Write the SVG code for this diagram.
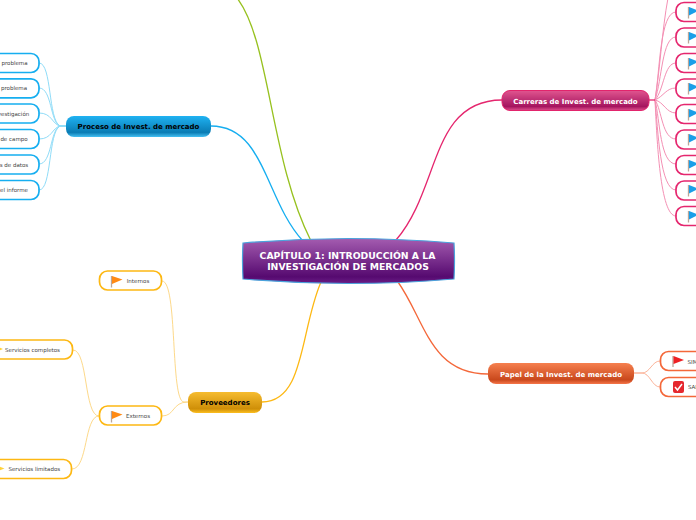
<svg xmlns="http://www.w3.org/2000/svg" width="696" height="520" viewBox="0 0 696 520">
<style>
text{font-family:"DejaVu Sans",Verdana,sans-serif;text-anchor:middle}
.main{font-size:7px;font-weight:700}
.rt{font-size:9.300px;font-weight:700;fill:#fff}
.small{font-size:5.500px;fill:#444}
.c{fill:none;stroke-width:1.300}
.t{fill:none;stroke-width:1}
.leaf{fill:#fff;stroke-width:1.700}
.cy{stroke:#16aef0}.pk{stroke:#e5266e}.or{stroke:#f4683a}.ye{stroke:#fdb813}.gr{stroke:#97c11f}
.cyl{stroke:#8fdcf8}.pkl{stroke:#f490b4}.orl{stroke:#fbb49a}.yel{stroke:#fdd98a}
.pole{stroke:#bba698;stroke-width:1.300}
</style>
<defs>
<linearGradient id="gRoot" x1="0" y1="0" x2="0" y2="1"><stop offset="0" stop-color="#a45cb0"/><stop offset=".85" stop-color="#560a70"/><stop offset="1" stop-color="#6a1e86"/></linearGradient>
<linearGradient id="gCy" x1="0" y1="0" x2="0" y2="1"><stop offset="0" stop-color="#1fb2f2"/><stop offset=".78" stop-color="#0a7cb4"/><stop offset="1" stop-color="#45c0f2"/></linearGradient>
<linearGradient id="gPk" x1="0" y1="0" x2="0" y2="1"><stop offset="0" stop-color="#e0558f"/><stop offset=".8" stop-color="#a5155f"/><stop offset="1" stop-color="#e0508c"/></linearGradient>
<linearGradient id="gOr" x1="0" y1="0" x2="0" y2="1"><stop offset="0" stop-color="#f6804f"/><stop offset=".8" stop-color="#c9481c"/><stop offset="1" stop-color="#f6764a"/></linearGradient>
<linearGradient id="gYe" x1="0" y1="0" x2="0" y2="1"><stop offset="0" stop-color="#f6bc30"/><stop offset=".8" stop-color="#cf8f08"/><stop offset="1" stop-color="#fdbf20"/></linearGradient>
<g id="flagB"><line class="pole" x1="0" y1="0" x2="0" y2="11.500"/><path d="M.5 0L10 3.800 .5 8.500Z" fill="#1b9fe8"/></g>
<g id="flagO"><line class="pole" x1="0" y1="0" x2="0" y2="11.500"/><path d="M.5 0L11 3.500 .5 8Z" fill="#ff8a14"/></g>
</defs>
<g id="connectors">
<path class="c gr" d="M237 -2C270 40 270 160 311 241"/>
<path class="c cy" d="M211 126C265 126 265 200 303 241"/>
<path class="c pk" d="M396 240C440 190 430 100 502 100"/>
<path class="c or" d="M398 282C425 320 430 374 488 374"/>
<path class="c ye" d="M321 282C300 330 305 402 262 402"/>
<g class="t cyl">
<path d="M66 126H60C48 120 52 63 39 63"/><path d="M66 126H60C50 122 52 88 39 88"/><path d="M66 126H60C52 124 52 113 39 113"/><path d="M66 126H60C52 128 52 139 39 139"/><path d="M66 126H60C50 130 52 164 39 164"/><path d="M66 126H60C48 132 52 190 39 190"/>
</g>
<g class="t pkl">
<path d="M655 100C660 70 662 30 668 -2"/><path d="M655 100C660 70 660 12 676 12"/><path d="M655 100C662 80 662 37 676 37"/><path d="M655 100C664 90 664 63 676 63"/><path d="M655 100C664 96 666 88 676 88"/><path d="M655 100C664 102 666 113 676 113"/><path d="M655 100C662 110 662 139 676 139"/><path d="M655 100C660 120 660 164 676 164"/><path d="M655 100C658 130 660 190 676 190"/><path d="M655 100C657 140 660 216 676 216"/>
</g>
<path class="c pk" d="M649 100H655"/>
<g class="t orl"><path d="M634 373H642C650 373 652 361 660 361"/><path d="M634 373H642C650 373 652 387 660 387"/></g>
<g class="t yel">
<path d="M188 402H184C170 402 178 281 162 281"/><path d="M188 402C172 402 175 416 162 416"/>
<path d="M99 416C84 416 88 350 73 350"/><path d="M99 416C84 416 88 469 72 469"/>
</g>
</g>
<g id="root">
<path d="M243 243Q348 234 454 243Q455 261 454 279Q348 288 243 279Q242 261 243 243Z" fill="url(#gRoot)" stroke="#4aa3dc" stroke-width="1.200"/>
<text class="rt" x="347.500" y="259">CAPÍTULO 1: INTRODUCCIÓN A LA</text>
<text class="rt" x="348" y="270">INVESTIGACIÓN DE MERCADOS</text>
</g>
<g id="n-proceso"><rect x="66" y="116" width="145" height="21" rx="8" fill="url(#gCy)"/><text class="main" x="138.500" y="129" fill="#000">Proceso de Invest. de mercado</text></g>
<g id="n-carreras"><rect x="502" y="90.500" width="147" height="20" rx="8" fill="url(#gPk)" stroke="#e2246c"/><text class="main" x="575.500" y="104" fill="#fff">Carreras de Invest. de mercado</text></g>
<g id="n-papel"><rect x="488" y="363" width="146" height="21" rx="8" fill="url(#gOr)"/><text class="main" x="561" y="377" fill="#fff">Papel de la Invest. de mercado</text></g>
<g id="n-proveedores"><rect x="188" y="392" width="74" height="21" rx="8" fill="url(#gYe)"/><text class="main" x="225" y="405" fill="#000">Proveedores</text></g>
<g id="p1"><rect class="leaf cy" x="-30" y="53.500" width="69" height="19" rx="8"/><text class="small" x="14.500" y="65">problema</text></g>
<g id="p2"><rect class="leaf cy" x="-30" y="78.800" width="69" height="19" rx="8"/><text class="small" x="14" y="90">problema</text></g>
<g id="p3"><rect class="leaf cy" x="-30" y="104" width="69" height="19" rx="8"/><text class="small" x="13.500" y="116">vestigación</text></g>
<g id="p4"><rect class="leaf cy" x="-30" y="129.500" width="69" height="19" rx="8"/><text class="small" x="14" y="141">de campo</text></g>
<g id="p5"><rect class="leaf cy" x="-30" y="155" width="69" height="19" rx="8"/><text class="small" x="14" y="167">s de datos</text></g>
<g id="p6"><rect class="leaf cy" x="-30" y="180.500" width="69" height="19" rx="8"/><text class="small" x="14" y="192">el informe</text></g>
<g id="c1"><rect class="leaf pk" x="676" y="2.500" width="60" height="19" rx="8"/><use href="#flagB" x="688.500" y="7"/></g>
<g id="c2"><rect class="leaf pk" x="676" y="28" width="60" height="19" rx="8"/><use href="#flagB" x="688.500" y="32"/></g>
<g id="c3"><rect class="leaf pk" x="676" y="53.500" width="60" height="19" rx="8"/><use href="#flagB" x="688.500" y="58"/></g>
<g id="c4"><rect class="leaf pk" x="676" y="79" width="60" height="19" rx="8"/><use href="#flagB" x="688.500" y="83"/></g>
<g id="c5"><rect class="leaf pk" x="676" y="104.500" width="60" height="19" rx="8"/><use href="#flagB" x="688.500" y="109"/></g>
<g id="c6"><rect class="leaf pk" x="676" y="130" width="60" height="19" rx="8"/><use href="#flagB" x="688.500" y="134"/></g>
<g id="c7"><rect class="leaf pk" x="676" y="155.500" width="60" height="19" rx="8"/><use href="#flagB" x="688.500" y="160"/></g>
<g id="c8"><rect class="leaf pk" x="676" y="181" width="60" height="19" rx="8"/><use href="#flagB" x="688.500" y="185"/></g>
<g id="c9"><rect class="leaf pk" x="676" y="206.500" width="60" height="19" rx="8"/><use href="#flagB" x="688.500" y="211"/></g>
<g id="o1"><rect class="leaf or" x="660.500" y="351.500" width="70" height="19" rx="8"/><line class="pole" x1="673" y1="356" x2="673" y2="367"/><path d="M673.500 356L684 360 673.500 364Z" fill="#ee2024"/><text class="small" x="692.500" y="363.500">SIM</text></g>
<g id="o2"><rect class="leaf or" x="660.500" y="377.500" width="70" height="19" rx="8"/><rect x="673" y="381" width="11" height="12" rx="2" fill="#e5282e"/><path d="M675 387l2.500 3 4.500-6" fill="none" stroke="#fff" stroke-width="1.500"/><text class="small" x="692.500" y="389">SAI</text></g>
<g id="y1"><rect class="leaf ye" x="99.500" y="271" width="62" height="19" rx="8"/><use href="#flagO" x="111.500" y="276"/><text class="small" x="138" y="283">Internos</text></g>
<g id="y2"><rect class="leaf ye" x="99.500" y="406" width="62" height="19" rx="8"/><use href="#flagO" x="111.500" y="411"/><text class="small" x="138" y="418">Externos</text></g>
<g id="y3"><rect class="leaf ye" x="-30" y="340" width="102.500" height="19" rx="8"/><path d="M-6 345L3 349 -6 353Z" fill="#ffd23a"/><text class="small" x="32.500" y="352">Servicios completos</text></g>
<g id="y4"><rect class="leaf ye" x="-30" y="459.500" width="101.500" height="19" rx="8"/><path d="M-5 465L4.500 468.500 -5 472Z" fill="#ffd23a"/><text class="small" x="34.300" y="471">Servicios limitados</text></g>
</svg>
